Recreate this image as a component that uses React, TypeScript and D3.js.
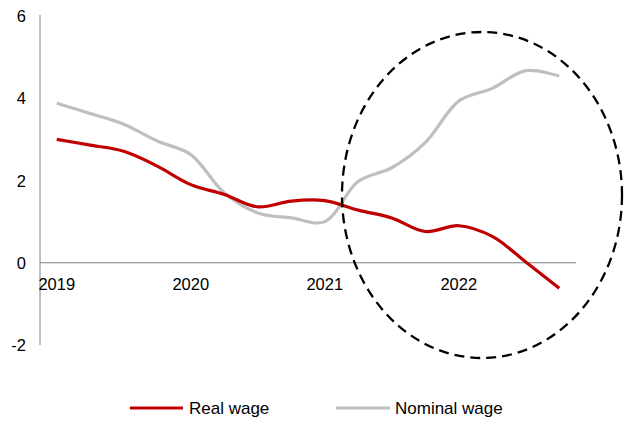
import React from "react";
import * as d3 from "d3";

const quarters = [
  "2019Q1", "2019Q2", "2019Q3", "2019Q4",
  "2020Q1", "2020Q2", "2020Q3", "2020Q4",
  "2021Q1", "2021Q2", "2021Q3", "2021Q4",
  "2022Q1", "2022Q2", "2022Q3", "2022Q4",
];
const realWage = [3.0, 2.86, 2.71, 2.35, 1.9, 1.66, 1.36, 1.5, 1.51, 1.28, 1.09, 0.76, 0.9, 0.64, 0.02, -0.62];
const nominalWage = [3.88, 3.63, 3.37, 2.96, 2.63, 1.7, 1.21, 1.09, 1.0, 1.98, 2.31, 2.92, 3.93, 4.24, 4.67, 4.54];
const yTicks = [-2, 0, 2, 4, 6];
const xLabels: Record<string, string> = { "2019Q1": "2019", "2020Q1": "2020", "2021Q1": "2021", "2022Q1": "2022" };

const W = 624, H = 421;
const left = 40, right = 576, top = 16, bottom = 345;

export default function App() {
  const x = d3.scaleBand<string>().domain(quarters).range([left, right]);
  const y = d3.scaleLinear().domain([-2, 6]).range([bottom, top]);
  const cx = (q: string) => (x(q) as number) + x.bandwidth() / 2;
  const line = d3
    .line<number>()
    .x((_, i) => cx(quarters[i]))
    .y((d) => y(d))
    .curve(d3.curveCatmullRom.alpha(0.5));
  const font = "Arial, 'Liberation Sans', sans-serif";
  return (
    <svg width={W} height={H} style={{ position: "absolute", left: 0, top: 0 }} fontFamily={font}>
      <rect width={W} height={H} fill="#fff" />
      <line x1={left} x2={left} y1={top - 1} y2={bottom} stroke="#808080" strokeWidth={1} />
      <line x1={left} x2={right} y1={y(0)} y2={y(0)} stroke="#808080" strokeWidth={1} />
      {yTicks.map((t) => (
        <text key={t} x={26} y={y(t)} textAnchor="end" dominantBaseline="central" fontSize={16.5} fill="#000">
          {t}
        </text>
      ))}
      {quarters.filter((q) => xLabels[q]).map((q) => (
        <text key={q} x={cx(q)} y={290} textAnchor="middle" fontSize={16.5} fill="#000">
          {xLabels[q]}
        </text>
      ))}
      <path d={line(nominalWage) || ""} fill="none" stroke="#BFBFBF" strokeWidth={3.2} />
      <path d={line(realWage) || ""} fill="none" stroke="#C00000" strokeWidth={3.2} />
      <ellipse cx={482} cy={195} rx={140} ry={163} fill="none" stroke="#000" strokeWidth={2.3} strokeDasharray="10 6" />
      <g>
        <line x1={130} x2={183} y1={408} y2={408} stroke="#C00000" strokeWidth={3.2} />
        <text x={189} y={408} dominantBaseline="central" fontSize={17} fill="#000">Real wage</text>
        <line x1={336} x2={390} y1={408} y2={408} stroke="#BFBFBF" strokeWidth={3.2} />
        <text x={395} y={408} dominantBaseline="central" fontSize={17} fill="#000">Nominal wage</text>
      </g>
    </svg>
  );
}
